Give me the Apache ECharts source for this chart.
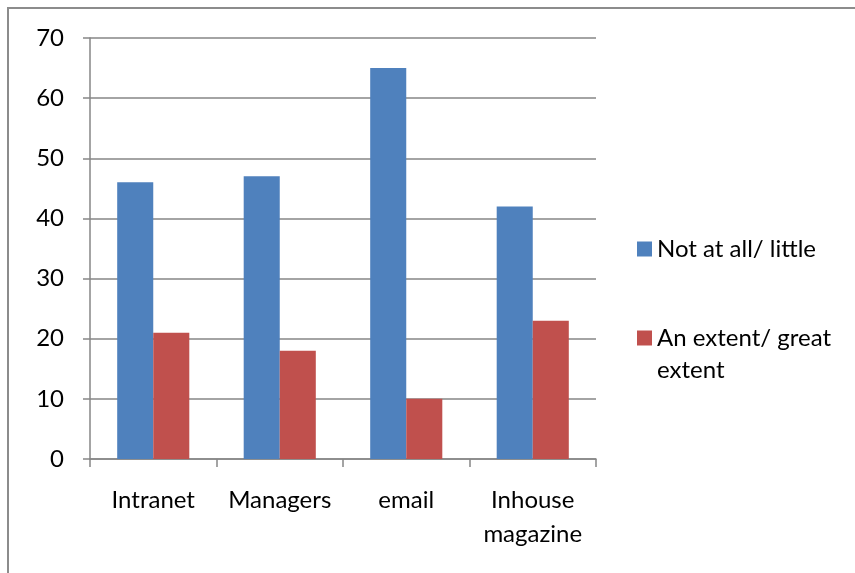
<!DOCTYPE html>
<html>
<head>
<meta charset="utf-8">
<script src="https://cdn.jsdelivr.net/npm/echarts@6/dist/echarts.min.js"></script>
<style>html,body{margin:0;padding:0;background:#fff}#c{width:855px;height:573px}</style>
</head>
<body>
<div id="c"></div>
<script>
const categories = ['Intranet', 'Managers', 'email', 'Inhouse\nmagazine'];
const seriesNames = ['Not at all/ little', 'An extent/ great extent'];
const notAtAll = [46, 47, 65, 42];
const extent = [21, 18, 10, 23];
const yTicks = [0, 10, 20, 30, 40, 50, 60, 70];

const font = 'Lato, "Open Sans", sans-serif';
const chart = echarts.init(document.getElementById('c'), null, {renderer: 'canvas'});
chart.setOption({
  backgroundColor: '#fff',
  animation: false,
  graphic: [{
    type: 'rect', shape: {x: 8, y: 8, width: 900, height: 700},
    style: {fill: 'none', stroke: '#8c8c8c', lineWidth: 2}, silent: true, z: -1
  }],
  grid: {left: 90, top: 38, width: 506, height: 421, containLabel: false},
  legend: {
    orient: 'vertical', left: 632, top: 228, itemWidth: 15, itemHeight: 15, itemGap: 25,
    icon: 'rect',
    data: seriesNames,
    formatter: function (n) { return n === seriesNames[1] ? ' \nAn extent/ great\nextent' : n; },
    textStyle: {fontFamily: font, fontSize: 24, color: '#000', lineHeight: 32, padding: [0, 0, 0, 0]}
  },
  xAxis: {
    type: 'category', data: categories,
    axisLine: {lineStyle: {color: '#868686', width: 1.5}},
    axisTick: {show: true, length: 8, alignWithLabel: false, lineStyle: {color: '#868686', width: 1.5}},
    axisLabel: {fontFamily: font, fontSize: 24, color: '#000', margin: 24, lineHeight: 34, interval: 0}
  },
  yAxis: {
    type: 'value', min: 0, max: 70, interval: 10,
    axisLine: {show: true, lineStyle: {color: '#868686', width: 1.5}},
    axisTick: {show: true, length: 7, lineStyle: {color: '#868686', width: 1.5}},
    splitLine: {lineStyle: {color: '#868686', width: 1.5}},
    axisLabel: {fontFamily: font, fontSize: 24, color: '#000', margin: 26,
      formatter: function (v) { return yTicks.indexOf(v) >= 0 ? String(v) : ''; }}
  },
  series: [
    {name: seriesNames[0], type: 'bar', data: notAtAll, barGap: '0%', barCategoryGap: '43%',
     itemStyle: {color: '#4F81BD'}},
    {name: seriesNames[1], type: 'bar', data: extent, barGap: '0%', barCategoryGap: '43%',
     itemStyle: {color: '#C0504D'}}
  ]
});
</script>
</body>
</html>
